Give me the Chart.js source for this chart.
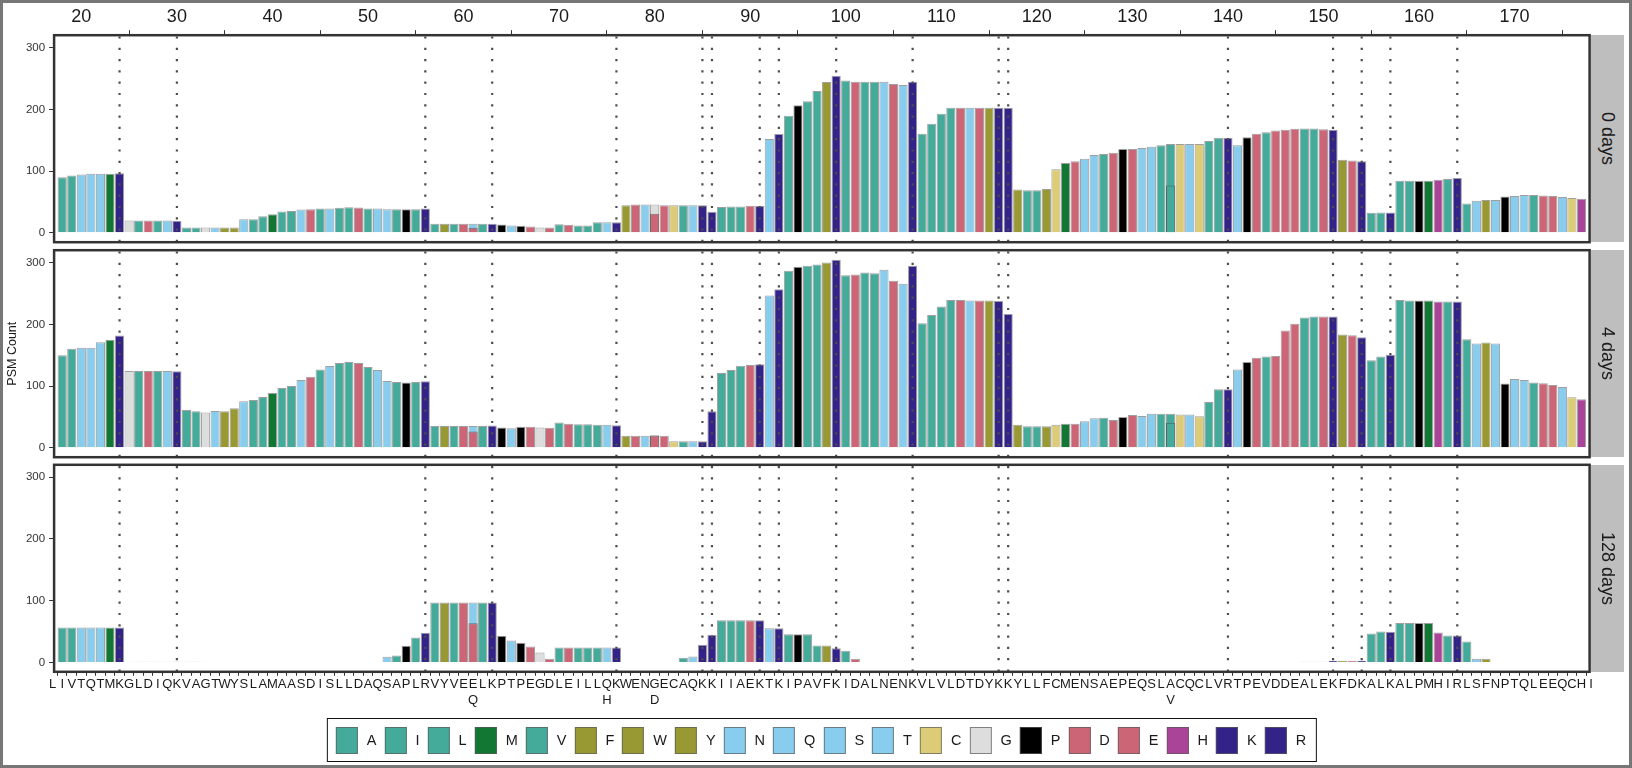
<!DOCTYPE html>
<html>
<head>
<meta charset="utf-8">
<script src="https://cdn.jsdelivr.net/npm/chart.js@4.4.1/dist/chart.umd.min.js"></script>
<style>
  html, body { margin: 0; padding: 0; background: #fff; }
  #page { position: relative; width: 1632px; height: 768px; background: #fff; overflow: hidden;
          font-family: "Liberation Sans", Arial, sans-serif; }
  #page canvas { position: absolute; left: 0; }
  #frame { position: absolute; left: 0; top: 0; width: 1632px; height: 768px; box-sizing: border-box;
           border: 3px solid #777; pointer-events: none; z-index: 5; }
  .strip { position: absolute; left: 1591px; width: 33px; height: 207px; background: #bebebe;
           display: flex; align-items: center; justify-content: center; }
  .strip span { writing-mode: vertical-rl; font-size: 18px; color: #1a1a1a; }
  #legend { position: absolute; top: 718px; left: 822px; transform: translateX(-50%); height: 44px;
            box-sizing: border-box; border: 1.5px solid #111; display: flex; align-items: center;
            padding: 0 2px 0 8px; white-space: nowrap; }
  .item { display: flex; align-items: center; }
  .key { width: 22px; height: 27px; box-sizing: border-box; border: 1px solid rgba(90,90,90,.7); }
  .lab { font-size: 14.5px; margin: 0 8px 0 9px; color: #1a1a1a; }
</style>
</head>
<body>
<div id="page">
  <canvas id="p0" width="1600" height="246" style="top:0px"></canvas>
  <canvas id="p1" width="1600" height="215" style="top:246px"></canvas>
  <canvas id="p2" width="1600" height="259" style="top:461px"></canvas>
  <div id="legend"></div>
  <div id="frame"></div>
</div>
<script>
// protein sequence, one residue per position starting at 17
const firstPos = 17;
const residues = ["LIVTQTMK", "GLDIQK", "VAGTWYSLAM", "AASDISLLDAQSAPLR", "VYVEELK", "PTPEG",
  "DLEILLQK", "WENGECAQKK", "IIAEKTKIPAVFK", "IDALNENK", "VLVLDTDYKK", "YLLFCMEN",
  "SAEPEQSLACQCLVR", "TPEVDDEALEK", "FDKALKALPMHIR", "LSFNPTQLEEQCHI"].join("").split("");
const positions = residues.map((r, i) => firstPos + i);

// sequence variants (second label row) and the lower stacked part of those bars
const variantPos = [61, 75, 80, 134];
const variantAA = ["Q", "H", "D", "V"];
const splitLow0 = [8, null, 31, 76.5];
const splitLow4 = [26.4, null, 19.5, 40.4];
const splitLow128 = [63.5, null, null, null];

// PSM counts per position (17..178)
const days0 = [
  null, 90, 93, 94.5, 95.5, 95.5, 95.5, 96.5, 20, 20,
  20, 20, 20, 19.5, 8.6, 8.6, 8.6, 8.6, 8.6, 8.6,
  22, 22, 27, 30, 34.5, 35.5, 37.7, 38, 39.3, 39.3,
  40.4, 41.5, 41, 39.3, 39.3, 38, 38, 38, 38, 39.3,
  14.5, 14.5, 14.5, 14.5, 14.5, 14.5, 14.5, 13.5, 12, 11.3,
  10, 8.5, 8.6, 14, 13, 12, 12, 17, 17, 17,
  44.7, 45.8, 45.8, 45.8, 44.7, 44.7, 44.7, 44.7, 44.7, 34,
  42, 42.5, 42.5, 44, 44, 152, 160, 189.5, 206.8, 213,
  230, 244.5, 254.7, 247, 245, 245, 245, 245, 241, 239.6,
  245, 160.5, 176.6, 192.8, 202.5, 202.5, 202.5, 202.5, 202.5, 202.5,
  202.5, 70, 69, 69, 71, 103, 113, 116, 120, 126,
  127.6, 129.8, 135.7, 135.7, 137.3, 139.5, 142, 143.8, 143.8, 143.8,
  143.8, 148.6, 154, 154, 142, 155, 160.5, 163, 165.9, 167,
  168.5, 169, 169, 168, 167, 118.5, 117, 116, 32.3, 33,
  33, 84.5, 84.5, 84.5, 84.5, 86, 87, 89, 47.4, 52,
  53, 53, 58.7, 59.8, 61.4, 61.4, 60.3, 59.8, 58, 56.5,
  55, null
];
const days4 = [
  null, 150, 160.5, 162, 162, 171, 175, 182, 124.4, 124.4,
  124.4, 124.4, 124.4, 123.9, 61.4, 59.2, 57, 59.8, 59.2, 64,
  75.4, 77.5, 82.4, 88.9, 97, 100, 110, 115, 127, 132.5,
  137.3, 139, 137.3, 130.9, 126, 108.2, 106.6, 106, 106.6, 107.7,
  35.5, 35.5, 35.5, 35.5, 35.5, 35.5, 36, 32.8, 31.8, 34,
  34, 32.8, 32.3, 41, 38.8, 38.2, 38.2, 37.2, 37.2, 36.6,
  19.4, 19.4, 19.4, 20.5, 19.4, 10.8, 10.8, 10.8, 10.8, 59.2,
  121.2, 126, 133, 134, 135.2, 247, 257, 287, 293.5, 295,
  297, 300.5, 304.8, 279.5, 281, 284.3, 282.7, 288.6, 270.9, 266,
  295, 202, 215.4, 228.9, 239.6, 239.6, 238.6, 238.6, 238.6, 238,
  217, 37.2, 35, 35, 35, 37.2, 38.8, 38.8, 43, 48,
  48.5, 45.2, 50, 53.3, 51.7, 55, 55, 55, 53.8, 53.8,
  51, 74.3, 94.8, 94.8, 127, 139, 146, 148, 148.6, 190,
  201, 211, 212.7, 212.7, 212.7, 183.6, 182.6, 179.3, 142, 148,
  150.8, 239.6, 238.6, 238.6, 238.6, 237, 237, 237, 176, 169,
  170.7, 169, 104, 111.5, 109.9, 106, 104.5, 101.8, 98.5, 81.9,
  78.6, null
];
const days128 = [
  null, 56.5, 56.5, 56.5, 56.5, 56.5, 56.5, 56.5, 1, 1,
  1, 1, 1, 1, 1, 1, 1, null, null, null,
  null, null, null, null, null, null, null, null, null, null,
  null, null, null, null, null, 9, 11, 27, 40.4, 48,
  97, 97, 97, 97, 97, 97, 97, 43, 35.5, 31.8,
  25.8, 16, 6, 24.2, 24.2, 24.2, 24.2, 24.2, 24.2, 24.2,
  null, null, null, null, null, null, 7.5, 9.7, 28.5, 44.7,
  68.4, 68.4, 68.4, 68.4, 68.4, 55.5, 55.5, 45.8, 45.8, 45.8,
  27.5, 27.5, 23.1, 18.8, 6, null, null, null, null, null,
  null, null, null, null, null, null, null, null, null, null,
  null, null, null, null, null, null, null, null, null, null,
  null, null, null, null, null, null, null, null, null, null,
  null, null, null, null, null, null, null, null, null, null,
  null, 1, 1, 1, 2.5, 2.5, 2.5, 2.5, 46.8, 50,
  49.5, 64, 64, 64, 64, 48.4, 43.6, 43.6, 33.9, 5.9,
  5.9, null, null, null, null, null, null, null, null, null,
  null, null
];

const facetNames = ["0 days", "4 days", "128 days"];
const topTicks = [20, 30, 40, 50, 60, 70, 80, 90, 100, 110, 120, 130, 140, 150, 160, 170];
const yTicks = [0, 100, 200, 300];
const legendAA = ["A", "I", "L", "M", "V", "F", "W", "Y", "N", "Q", "S", "T", "C", "G", "P", "D", "E", "H", "K", "R"];
const aaColor = {
  A: "#44AA99", I: "#44AA99", L: "#44AA99", V: "#44AA99", M: "#117733",
  F: "#999933", W: "#999933", Y: "#999933", N: "#88CCEE", Q: "#88CCEE", S: "#88CCEE", T: "#88CCEE",
  C: "#DDCC77", G: "#DDDDDD", P: "#000000", D: "#CC6677", E: "#CC6677", H: "#AA4499",
  K: "#332288", R: "#332288"
};

const xMin = 17.15, xMax = 177.85, yMin = -15.25, yMax = 320.25;

Chart.defaults.font.family = '"Liberation Sans", Arial, sans-serif';
Chart.defaults.color = "#1a1a1a";

// trypsin sites get a dotted line
const cutSites = positions.filter((p, i) => residues[i] === "K" || residues[i] === "R");
const cutLine = cutSites.flatMap(p => [{x: p, y: yMax}, {x: p, y: yMin}, {x: p, y: null}]);

function topAA(p) {
  const main = residues[p - firstPos];
  const k = variantPos.indexOf(p);
  if (k < 0) return main;
  return main > variantAA[k] ? main : variantAA[k];
}
function lowAA(k) {
  const main = residues[variantPos[k] - firstPos];
  return main < variantAA[k] ? main : variantAA[k];
}
function tickLabel(v) {
  const i = v - firstPos;
  const k = variantPos.indexOf(v);
  return k >= 0 ? [residues[i], variantAA[k]] : residues[i];
}

const panelBorder = {
  id: "panelBorder",
  afterDatasetsDraw(chart) {
    const {ctx, chartArea: a} = chart;
    ctx.save();
    ctx.strokeStyle = "#333";
    ctx.lineWidth = 2.5;
    ctx.strokeRect(a.left, a.top, a.right - a.left, a.bottom - a.top);
    ctx.restore();
  }
};

function noPad(s) {
  s.paddingTop = 0; s.paddingBottom = 0; s.paddingLeft = 0; s.paddingRight = 0;
}

function xScale(kind) {
  const s = {
    type: "linear", min: xMin, max: xMax, offset: false,
    position: kind === "top" ? "top" : "bottom",
    display: kind !== "none",
    border: {display: false},
    grid: {drawOnChartArea: false, drawTicks: true, tickLength: kind === "top" ? 5 : 4, color: "#333"}
  };
  if (kind === "top") {
    s.ticks = {font: {size: 18}, color: "#1a1a1a", padding: 2, maxRotation: 0, autoSkip: false};
    s.afterBuildTicks = sc => { sc.ticks = topTicks.map(v => ({value: v})); };
    s.afterFit = sc => { sc.height = 35.2; noPad(sc); };
  } else if (kind === "bottom") {
    s.ticks = {font: {size: 13}, color: "#1a1a1a", padding: 1, maxRotation: 0, minRotation: 0,
               autoSkip: false, callback: v => tickLabel(v)};
    s.afterBuildTicks = sc => { sc.ticks = positions.concat([firstPos + residues.length - 1]).slice(0, residues.length).map(v => ({value: v})); };
    s.afterFit = sc => { sc.height = 48.2; noPad(sc); };
  } else {
    s.afterFit = sc => { sc.height = 0; noPad(sc); };
  }
  return s;
}

function yScale(withTitle) {
  return {
    min: yMin, max: yMax,
    border: {display: false},
    grid: {drawOnChartArea: false, tickLength: 5, color: "#333"},
    ticks: {font: {size: 11.5}, color: "#333", padding: 4},
    title: {display: withTitle, text: "PSM Count", font: {size: 12.5}, color: "#1a1a1a", padding: {top: 5, bottom: 0}},
    afterBuildTicks: sc => { sc.ticks = yTicks.map(v => ({value: v})); },
    afterFit: sc => { sc.width = 54.1; noPad(sc); }
  };
}

function makePanel(id, counts, splitLow, kind, padTop, padBottom, withTitle) {
  const lowIdx = variantPos.map((p, k) => k).filter(k => splitLow[k] != null);
  new Chart(document.getElementById(id), {
    type: "bar",
    data: {
      datasets: [
        {type: "line", data: cutLine, borderColor: "#4d4d4d", borderWidth: 2.2,
         borderDash: [2.2, 9.1], borderDashOffset: 10.1, borderCapStyle: "butt",
         pointRadius: 0, spanGaps: false, order: 0},
        {data: lowIdx.map(k => ({x: variantPos[k], y: splitLow[k]})),
         backgroundColor: lowIdx.map(k => aaColor[lowAA(k)]),
         borderColor: "rgba(70,70,70,0.7)", borderWidth: 1,
         grouped: false, barPercentage: 0.96, categoryPercentage: 1, order: 1},
        {data: positions.map((p, i) => ({x: p, y: counts[i]})),
         backgroundColor: positions.map(p => aaColor[topAA(p)]),
         borderColor: "rgba(80,80,80,0.55)", borderWidth: 1,
         grouped: false, barPercentage: 0.96, categoryPercentage: 1, order: 2}
      ]
    },
    options: {
      responsive: false, animation: false, devicePixelRatio: 1,
      layout: {padding: {top: padTop, bottom: padBottom, left: 0, right: 10.4}},
      plugins: {legend: {display: false}, tooltip: {enabled: false}},
      scales: {x: xScale(kind), y: yScale(withTitle)}
    },
    plugins: [panelBorder]
  });
}

makePanel("p0", days0, splitLow0, "top", 0, 3.8, false);
makePanel("p1", days4, splitLow4, "none", 4.2, 3.8, true);
makePanel("p2", days128, splitLow128, "bottom", 3.8, 0, false);

// facet strips
const page = document.getElementById("page");
[35.2, 250.2, 464.8].forEach((top, i) => {
  const d = document.createElement("div");
  d.className = "strip";
  d.style.top = top + "px";
  d.innerHTML = "<span>" + facetNames[i] + "</span>";
  page.appendChild(d);
});

// legend
const legendEl = document.getElementById("legend");
legendAA.forEach(aa => {
  const item = document.createElement("div");
  item.className = "item";
  item.innerHTML = '<span class="key" style="background:' + aaColor[aa] + '"></span><span class="lab">' + aa + '</span>';
  legendEl.appendChild(item);
});
</script>
</body>
</html>
